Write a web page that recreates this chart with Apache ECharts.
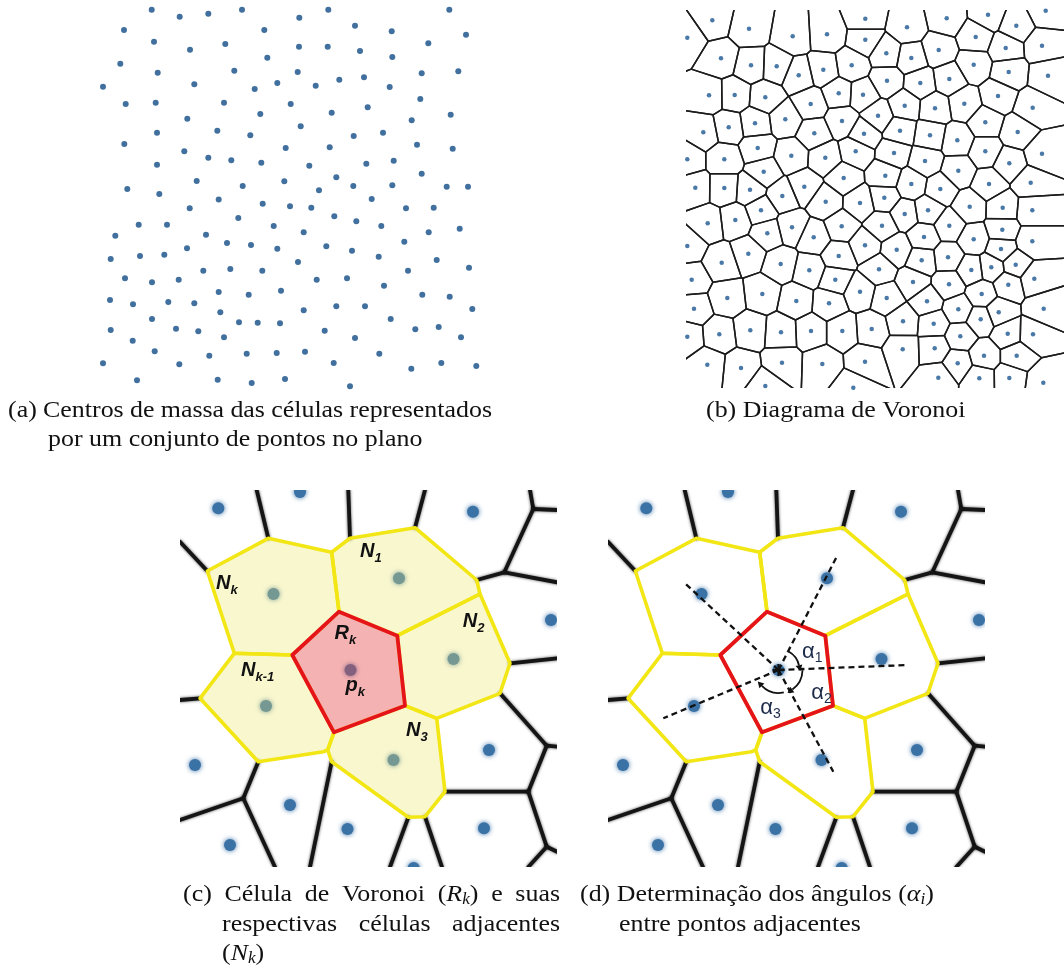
<!DOCTYPE html>
<html>
<head>
<meta charset="utf-8">
<script src="https://cdn.jsdelivr.net/npm/echarts@6/dist/echarts.min.js"></script>
<style>
  html, body { margin: 0; padding: 0; background: #ffffff; }
  #chart { width: 1064px; height: 976px; }
</style>
</head>
<body>
<div id="chart"></div>
<script>
// ---------- (a) cell centres of mass, in panel units ----------
const centroidsA = [
  [151.7,9.7],[179.7,16.7],[208.3,13.7],[242,9.7],[124,30],[264.3,30],[154,41.7],[190,49.7],[225.3,44],[267.3,57.7],
  [120.3,63.7],[157.7,72.7],[234.3,70.7],[103,86.7],[194.3,84.3],[254.7,89],[277.3,83],[125.7,104],[155.7,102.7],[224,102.7],
  [290.7,104],[187.3,118.7],[260.3,114],[157,132.7],[217.3,130.7],[250.3,135.3],[124.3,144],[184.3,151.3],[208.3,157.7],[231.3,160.3],
  [261.3,162.7],[285.7,148],[157,164.7],[127.3,189],[159.3,194],[196.7,181],[242.7,186],[284.3,181.3],[218.7,199.5],
  [328.3,9.7],[449.3,9.7],[299.3,17.7],[355,25.7],[391.7,31.3],[466,34.7],[299,46.7],[327.7,46.7],[360,51],[392.3,57],
  [428.3,43.3],[297.7,72],[339.3,79.7],[364,77.3],[315.7,85.7],[389.7,87],[421.7,73.3],[458.3,71.3],[331.7,112.7],[367.7,107.3],
  [420.3,99],[450.7,114.7],[411.7,120.3],[300.7,126.3],[353.7,136],[383,132.7],[329.7,147.3],[417,144.7],[452.7,148.7],[309.3,165.7],
  [366.3,163.7],[393.7,160.7],[421.7,173.7],[336.3,177.3],[319,190.3],[353.3,186],[392.3,185.3],[446.7,186.7],[468,186.7],[371.7,199],
  [262.7,203.7],[290,206.3],[189.7,208.3],[138.7,224.7],[167,224.7],[238.3,218],[273.7,226],[115.3,235.7],[206,234.7],[187,248.3],
  [227,243],[251,245],[277.3,248.7],[110.7,259],[140,256],[164.3,254.7],[203.3,270.7],[230.3,269],[262.3,270.7],[125,278.3],
  [152,282.3],[178.7,279.7],[218.7,292],[248.7,294.7],[281,290.7],[110,300],[133,304.3],[168.3,302],[194.3,303.3],[220.3,312.3],
  [152,319],[239,322.3],[257.7,322.7],[280,323.3],[110.7,330],[132.7,340.7],[176,328.7],[198.3,331.3],[224,337.3],[154.7,351.3],
  [209.3,355.7],[246.7,353.7],[276.7,353],[103,363.3],[179.3,364.3],[137,380.3],[217.7,379.7],[251.7,383],[285,379],
  [311.3,207.7],[406,208.3],[433.7,207.7],[334.3,216.3],[356.3,221.3],[381.3,226],[303.7,232.3],[428.7,232.3],[459.7,228.7],[326.3,246.3],
  [352,250.7],[378.7,256.7],[404.3,241.7],[298,262],[436.7,260],[469,267.7],[316.7,279.7],[347,278.3],[408,270.7],[384,285.7],
  [422.3,294.7],[449.7,296.7],[303.7,310.3],[336.3,306.3],[365,306.3],[472.3,309],[390.7,319],[324.7,330.7],[355,338],[415.3,329.3],
  [438.7,327],[461,337.3],[305,351.7],[379.3,353.7],[333.7,363],[411.3,368.7],[441.3,363],[476.3,366],[350,386.3]
];

// ---------- (b) Voronoi generators ----------
const seedsB = [
  [712.3,20.3],[749,28.7],[792.7,36.3],[827,34.3],[865.3,18.7],[865.3,39.7],[687.3,37.7],[721,58.3],[751,65.3],[776.7,66.3],
  [798.7,75.3],[823.3,69.7],[851.7,65.3],[709,95.3],[734.7,95],[765.3,97.3],[810.7,104],[838.7,93.3],[863,94.7],[703.3,132.3],
  [728.7,127.3],[755,123.3],[785.3,119.3],[814.3,133.3],[842,121],[864,133.7],[687.3,159.3],[724.3,159.3],[757.7,148],[791.3,155.7],
  [825.3,157.7],[855.7,151.3],[695.3,187.7],[724.3,188],[750,189.7],[763.7,171.7],[782.3,196],[804.3,186.7],[843.7,178],
  [946.7,18.3],[988,14.7],[1045.7,10.7],[907,27.3],[975.7,37],[1016.3,25.7],[1042,45.7],[886.3,53.3],[911.3,58],[938.7,50],
  [1005.7,48],[973.7,64.7],[1008.7,72],[1048,75.7],[887,80.7],[920.3,83],[949.3,79],[998,96],[1032.7,107.7],[904.7,105.7],
  [935,108.3],[964.3,103.7],[878,115.7],[985.3,122.3],[900,130.7],[930,135.3],[957.3,140.3],[1017.7,132],[894,153],[925,161],
  [985.3,151.3],[1042,153.7],[958.3,170.7],[1009.3,163.3],[885.3,175.7],[911.3,184],[940.3,189],[989,184],[1030.7,182.7],[884.3,197.7],
  [825.7,201.7],[860,203],[707.7,223.3],[735.3,220],[761,210.3],[767.3,233.3],[792,227.3],[813.7,237.3],[841.7,226.3],[865,245.3],
  [687.3,246],[721.7,262.7],[748.3,253.7],[780.7,264],[809.3,270.3],[838.7,256],[835.3,279.7],[691.7,279.7],[727.3,298],[762.3,294],
  [796.3,301],[829,303.3],[860,291.7],[694,308.7],[719.3,334.3],[750.3,330.3],[781,332.3],[811,331],[842.3,331],[871.7,329],
  [687.3,336.7],[707.3,364.7],[741,368],[782,362.7],[822.3,364],[865,361.7],[765.3,386],[853.3,387.7],
  [904.7,214],[928,210.3],[969.7,206.7],[1002.7,207.7],[1032.3,210.3],[882,225.7],[949.3,225.7],[1002.3,229.7],[924,237],[896.7,249.7],
  [973.7,239.3],[1001,249],[1032.3,241.3],[921.7,260.3],[948,257.3],[879,269.3],[971.3,270],[991.3,267.3],[1015.7,264.7],[1034.3,278.7],
  [913,282],[949,284.3],[981.7,294],[1008.3,284.7],[886.7,298],[927,301.3],[958.3,309.3],[998.7,312.3],[1043.7,308.7],[903,321.3],
  [933.7,323.7],[980.7,319.3],[960.3,336.3],[1007.7,333.7],[1033,334.3],[902.7,349.3],[934.7,348.3],[984,355.7],[1016.7,355.7],[957.7,363.3],
  [938.3,377.7],[979.3,378.3],[1009.3,378],[1043.3,382.7]
];

// ---------- (c)/(d) enlarged neighbourhood ----------
// generators visible in the close-up (index 8 is p_k)
const detailDots = [
  [38.3,18.3],[120,2],[293,21.7],[371,130],[93.5,104],[219,88.3],[273.5,169],[86,216],[170.5,180],
  [213.5,270],[309,260],[15,275],[110,315],[167.5,339],[304,338.3],[50,355],[233.7,378]
];
// central cell R_k
const cellRk = [[159,121.7],[217.3,145.7],[225,215.7],[154,242.3],[112.3,165]];
// adjacent cells N_1, N_2, N_3, N_{k-1}, N_k
const cellN1 = [[151.7,62.3],[170,48.3],[235,37.7],[296.7,90],[300,104],[217.3,145.7],[159,121.7]];
const cellN2 = [[217.3,145.7],[300,104],[330,173.3],[320,203.3],[256.7,228.3],[225,215.7]];
const cellN3 = [[154,242.3],[225,215.7],[256.7,228.3],[265,301.7],[245,326.7],[228.3,327.3],[151.7,271.7],[147.7,260]];
const cellNk1 = [[54.3,163.3],[112.3,165],[154,242.3],[147.7,260],[143.3,261.7],[78.3,271.7],[20,208.3]];
const cellNk = [[27.3,81],[88.3,48.3],[151.7,62.3],[159,121.7],[112.3,165],[54.3,163.3]];
const neighbourCells = [cellN1, cellN2, cellN3, cellNk1, cellNk];
// remaining Voronoi edges of the close-up
const detailEdges = [
  [27.3,81,0,51.7],[88.3,48.3,76.7,0],[170,48.3,168.3,0],[235,37.7,245,0],
  [353.3,19,350,0],[353.3,19,377,20],[353.3,19,324.3,82.3],[324.3,82.3,377,92.3],[324.3,82.3,296.7,90],
  [330,173.3,377,168.3],[320,203.3,366.7,255.7],[366.7,255.7,377,256.7],[366.7,255.7,348.3,301.7],
  [348.3,301.7,265,301.7],[348.3,301.7,366.7,356.7],[366.7,356.7,377,361.7],[366.7,356.7,348.3,377],
  [245,326.7,262,377],[228.3,327.3,210,377],[151.7,271.7,130,377],
  [78.3,271.7,63.3,308.3],[63.3,308.3,0,330],[63.3,308.3,95,377],[20,208.3,0,210]
];
// labels of panel (c): [symbol, subscript, x, y]
const cellLabels = [
  ['N','1',187.3,61.7],['N','k',43.3,93.3],['N','2',290,131.7],['N','k-1',68.3,180],
  ['R','k',161.7,143.3],['p','k',171.7,195],['N','3',233.3,240]
];
// panel (d): ends of the segments from p_k towards N_1, N_2, N_3, N_{k-1}, N_k
const rayEnds = [[228.7,66.7],[300.3,175],[225.3,281.7],[55.3,228.3],[77,93.3]];
const angleLabels = [['α','1',200.3,161.7],['α','2',209.7,203.3],['α','3',158.7,218.3]];

// ---------- captions ----------
const captions = [
  { x: 8, y: 411, to: 492, runs: [['(a) Centros de massa das células representados','rm']] },
  { x: 48, y: 440, runs: [['por um conjunto de pontos no plano','rm']] },
  { x: 706, y: 411, runs: [['(b) Diagrama de Voronoi','rm']] },
  { x: 183, y: 895, to: 560, runs: [['(c) Célula de Voronoi (','rm'],['R','it'],['k','sub'],[') e suas','rm']] },
  { x: 222, y: 925, to: 560, runs: [['respectivas células adjacentes','rm']] },
  { x: 222, y: 954, runs: [['(','rm'],['N','it'],['k','sub'],[')','rm']] },
  { x: 580, y: 895, runs: [['(d) Determinação dos ângulos (','rm'],['α','it'],['i','sub'],[')','rm']] },
  { x: 619, y: 925, runs: [['entre pontos adjacentes','rm']] }
];

// ---------- styling ----------
const SERIF = "'Liberation Serif','DejaVu Serif',serif";
const SANS = "'Liberation Sans','DejaVu Sans',sans-serif";
const CAPTION_SIZE = 24;
const CAPTION_STRETCH = 1.08;
const DOT_A = '#41709e';
const DOT_B = '#4a79a8';
const DOT_D = '#3b72a6';
const EDGE = '#151515';
const YELLOW = '#f2e614';
const RED = '#e5141b';
const ARC = { r: [21, 24, 23], padStart: [1.5, 3, 15], padEnd: [11, 7, 21] };

const measureCtx = document.createElement('canvas').getContext('2d');
function textWidth(s, f) {
  measureCtx.font = `${f.fontStyle || 'normal'} ${f.fontWeight || 'normal'} ${f.fontSize}px ${f.fontFamily}`;
  return measureCtx.measureText(s).width;
}
function textEl(x, y, s, f, color, sx) {
  return {
    type: 'text', x: x, y: y, scaleX: sx || 1, silent: true,
    style: {
      text: s, fill: color, fontSize: f.fontSize, fontFamily: f.fontFamily,
      fontStyle: f.fontStyle || 'normal', fontWeight: f.fontWeight || 'normal',
      align: 'left', verticalAlign: 'middle', textAlign: 'left', textVerticalAlign: 'middle'
    }
  };
}

// caption line: tokens placed one by one, spaces stretched for justified lines
function runFont(kind) {
  if (kind === 'it') return { fontSize: CAPTION_SIZE, fontStyle: 'italic', fontFamily: SERIF, dy: 0 };
  if (kind === 'sub') return { fontSize: 16, fontStyle: 'italic', fontFamily: SERIF, dy: 5 };
  return { fontSize: CAPTION_SIZE, fontStyle: 'normal', fontFamily: SERIF, dy: 0 };
}
function captionElements(line) {
  const toks = [];
  line.runs.forEach(([t, kind]) => {
    const f = runFont(kind);
    t.split(/( )/).forEach(s => { if (s !== '') toks.push({ s, f, space: s === ' ' }); });
  });
  toks.forEach(t => { t.w = textWidth(t.s, t.f) * CAPTION_STRETCH; });
  const natural = toks.reduce((a, t) => a + t.w, 0);
  const nSp = toks.filter(t => t.space).length;
  const extra = line.to && nSp ? (line.to - line.x - natural) / nSp : 0;
  let cx = line.x;
  const els = [];
  toks.forEach(t => {
    if (t.space) { cx += t.w + extra; return; }
    els.push(textEl(cx, line.y + t.f.dy, t.s, t.f, '#111111', CAPTION_STRETCH));
    cx += t.w;
  });
  return els;
}

// ---------- Voronoi by half-plane clipping ----------
function clipHalf(poly, a, b, c) {
  const out = [];
  for (let i = 0; i < poly.length; i++) {
    const P = poly[i], Q = poly[(i + 1) % poly.length];
    const fp = a * P[0] + b * P[1] - c, fq = a * Q[0] + b * Q[1] - c;
    if (fp <= 0) out.push(P);
    if ((fp < 0 && fq > 0) || (fp > 0 && fq < 0)) {
      const t = fp / (fp - fq);
      out.push([P[0] + t * (Q[0] - P[0]), P[1] + t * (Q[1] - P[1])]);
    }
  }
  return out;
}
function voronoiCells(seeds, box) {
  return seeds.map((p, i) => {
    let poly = [[box[0], box[1]], [box[2], box[1]], [box[2], box[3]], [box[0], box[3]]];
    for (let j = 0; j < seeds.length && poly.length; j++) {
      if (j === i) continue;
      const q = seeds[j];
      poly = clipHalf(poly, q[0] - p[0], q[1] - p[1], (q[0] * q[0] + q[1] * q[1] - p[0] * p[0] - p[1] * p[1]) / 2);
    }
    return poly;
  });
}
const cellsB = voronoiCells(seedsB, [680, 4, 1070, 394]);

// ---------- layout ----------
const panels = [
  { left: 95, top: 5, width: 390, height: 385, x: [95, 485], y: [5, 390] },
  { left: 686, top: 10, width: 378, height: 378, x: [686, 1064], y: [10, 388] },
  { left: 180, top: 490, width: 377, height: 377, x: [0, 377], y: [0, 377] },
  { left: 608, top: 490, width: 377, height: 377, x: [0, 377], y: [0, 377] }
];

const series = [];

// (a)
series.push({
  type: 'scatter', xAxisIndex: 0, yAxisIndex: 0, data: centroidsA,
  symbol: 'circle', symbolSize: 6, itemStyle: { color: DOT_A, opacity: 1 }, silent: true
});

// (b)
series.push({
  type: 'custom', xAxisIndex: 1, yAxisIndex: 1, data: seedsB, clip: true, silent: true, z: 2,
  renderItem: (params, api) => {
    const poly = cellsB[params.dataIndex];
    return {
      type: 'polygon',
      shape: { points: poly.map(p => api.coord(p)) },
      style: { fill: 'none', stroke: '#1c1c1c', lineWidth: 1.5, lineJoin: 'round' }
    };
  }
});
series.push({
  type: 'scatter', xAxisIndex: 1, yAxisIndex: 1, data: seedsB, z: 3,
  symbol: 'circle', symbolSize: 4.5, itemStyle: { color: DOT_B, opacity: 1 }, silent: true
});

// (c) and (d) share the same close-up
function detailSeries(ax, filled) {
  const list = [];
  list.push({
    type: 'custom', xAxisIndex: ax, yAxisIndex: ax, data: detailEdges, clip: true, silent: true, z: 2,
    renderItem: (params, api) => {
      const e = detailEdges[params.dataIndex];
      const a = api.coord([e[0], e[1]]), b = api.coord([e[2], e[3]]);
      return {
        type: 'line', shape: { x1: a[0], y1: a[1], x2: b[0], y2: b[1] },
        style: { stroke: EDGE, lineWidth: 3.8, lineCap: 'round', shadowBlur: 3, shadowColor: 'rgba(0,0,0,0.7)' }
      };
    }
  });
  list.push({
    type: 'custom', xAxisIndex: ax, yAxisIndex: ax, data: detailDots, clip: true, silent: true, z: 3,
    renderItem: (params, api) => {
      const p = api.coord(detailDots[params.dataIndex]);
      return {
        type: 'circle', shape: { cx: p[0], cy: p[1], r: 6 },
        style: { fill: DOT_D, shadowBlur: 5, shadowColor: DOT_D }
      };
    }
  });
  if (filled) {
    list.push({
      type: 'custom', xAxisIndex: ax, yAxisIndex: ax, data: neighbourCells.map((c, i) => [i]), silent: true, z: 4,
      renderItem: (params, api) => ({
        type: 'polygon', shape: { points: neighbourCells[params.dataIndex].map(p => api.coord(p)) },
        style: { fill: 'rgba(236,230,105,0.33)', stroke: 'none' }
      })
    });
    list.push({
      type: 'custom', xAxisIndex: ax, yAxisIndex: ax, data: [[0]], silent: true, z: 4,
      renderItem: (params, api) => ({
        type: 'polygon', shape: { points: cellRk.map(p => api.coord(p)) },
        style: { fill: 'rgba(232,72,72,0.42)', stroke: 'none' }
      })
    });
  }
  list.push({
    type: 'custom', xAxisIndex: ax, yAxisIndex: ax, data: neighbourCells.map((c, i) => [i]), silent: true, z: 5,
    renderItem: (params, api) => ({
      type: 'polygon', shape: { points: neighbourCells[params.dataIndex].map(p => api.coord(p)) },
      style: { fill: 'none', stroke: YELLOW, lineWidth: 3.6, lineJoin: 'round' }
    })
  });
  list.push({
    type: 'custom', xAxisIndex: ax, yAxisIndex: ax, data: [[0]], silent: true, z: 6,
    renderItem: (params, api) => ({
      type: 'polygon', shape: { points: cellRk.map(p => api.coord(p)) },
      style: { fill: 'none', stroke: RED, lineWidth: 3.8, lineJoin: 'round' }
    })
  });
  return list;
}
function subscriptLabel(items, mainF, subF, subDy, color) {
  return (params, api) => {
    const L = items[params.dataIndex];
    const p = api.coord([L[2], L[3]]);
    const w = textWidth(L[0], mainF);
    return {
      type: 'group',
      children: [
        textEl(p[0] - w / 2, p[1], L[0], mainF, color),
        textEl(p[0] + w / 2, p[1] + subDy, L[1], subF, color)
      ]
    };
  };
}
detailSeries(2, true).forEach(s => series.push(s));
series.push({
  type: 'custom', xAxisIndex: 2, yAxisIndex: 2, data: cellLabels.map((c, i) => [i]), silent: true, z: 8,
  renderItem: subscriptLabel(cellLabels,
    { fontSize: 20, fontStyle: 'italic', fontWeight: 'bold', fontFamily: SANS },
    { fontSize: 13, fontStyle: 'italic', fontWeight: 'bold', fontFamily: SANS }, 7, '#111111')
});

detailSeries(3, false).forEach(s => series.push(s));
const centre = detailDots[8];
const rayAngles = rayEnds.map(e => Math.atan2(e[1] - centre[1], e[0] - centre[0]));
series.push({
  type: 'custom', xAxisIndex: 3, yAxisIndex: 3, data: rayEnds, silent: true, z: 7,
  renderItem: (params, api) => {
    const c = api.coord(centre), e = api.coord(rayEnds[params.dataIndex]);
    return {
      type: 'line', shape: { x1: c[0], y1: c[1], x2: e[0], y2: e[1] },
      style: { stroke: '#111111', lineWidth: 2.3, lineDash: [6, 4] }
    };
  }
});
series.push({
  type: 'custom', xAxisIndex: 3, yAxisIndex: 3, data: [[0], [1], [2]], silent: true, z: 7,
  renderItem: (params, api) => {
    const i = params.dataIndex;
    const c = api.coord(centre);
    const a0 = rayAngles[i] + ARC.padStart[i] * Math.PI / 180;
    let a1 = rayAngles[i + 1];
    if (a1 < a0) a1 += 2 * Math.PI;
    a1 -= ARC.padEnd[i] * Math.PI / 180;
    const r = ARC.r[i];
    const ex = c[0] + r * Math.cos(a1), ey = c[1] + r * Math.sin(a1);
    const tx = -Math.sin(a1), ty = Math.cos(a1);
    const nx = Math.cos(a1), ny = Math.sin(a1);
    const L = 6, H = 3.5;
    return {
      type: 'group',
      children: [
        { type: 'arc', shape: { cx: c[0], cy: c[1], r: r, startAngle: a0, endAngle: a1, clockwise: true },
          style: { stroke: '#111111', lineWidth: 1.8, fill: 'none' } },
        { type: 'polygon', shape: { points: [
            [ex + tx * L, ey + ty * L],
            [ex + nx * H, ey + ny * H],
            [ex - nx * H, ey - ny * H]
          ] }, style: { fill: '#111111' } }
      ]
    };
  }
});
series.push({
  type: 'custom', xAxisIndex: 3, yAxisIndex: 3, data: [[0]], silent: true, z: 7,
  renderItem: (params, api) => {
    const c = api.coord(centre);
    return {
      type: 'group',
      children: [
        { type: 'line', shape: { x1: c[0] - 6, y1: c[1], x2: c[0] + 6, y2: c[1] }, style: { stroke: '#111', lineWidth: 2.2 } },
        { type: 'line', shape: { x1: c[0], y1: c[1] - 6, x2: c[0], y2: c[1] + 6 }, style: { stroke: '#111', lineWidth: 2.2 } }
      ]
    };
  }
});
series.push({
  type: 'custom', xAxisIndex: 3, yAxisIndex: 3, data: angleLabels.map((c, i) => [i]), silent: true, z: 8,
  renderItem: subscriptLabel(angleLabels,
    { fontSize: 22, fontFamily: SANS },
    { fontSize: 14, fontFamily: SANS }, 6, '#1b2a48')
});

const graphic = [];
captions.forEach(line => captionElements(line).forEach(el => graphic.push(el)));

const option = {
  animation: false,
  backgroundColor: '#ffffff',
  grid: panels.map(p => ({ left: p.left, top: p.top, width: p.width, height: p.height, show: false })),
  xAxis: panels.map((p, i) => ({ type: 'value', gridIndex: i, min: p.x[0], max: p.x[1], show: false })),
  yAxis: panels.map((p, i) => ({ type: 'value', gridIndex: i, min: p.y[0], max: p.y[1], inverse: true, show: false })),
  series: series,
  graphic: graphic
};

const chart = echarts.init(document.getElementById('chart'), null, { renderer: 'canvas', width: 1064, height: 976 });
chart.setOption(option);
</script>
</body>
</html>
